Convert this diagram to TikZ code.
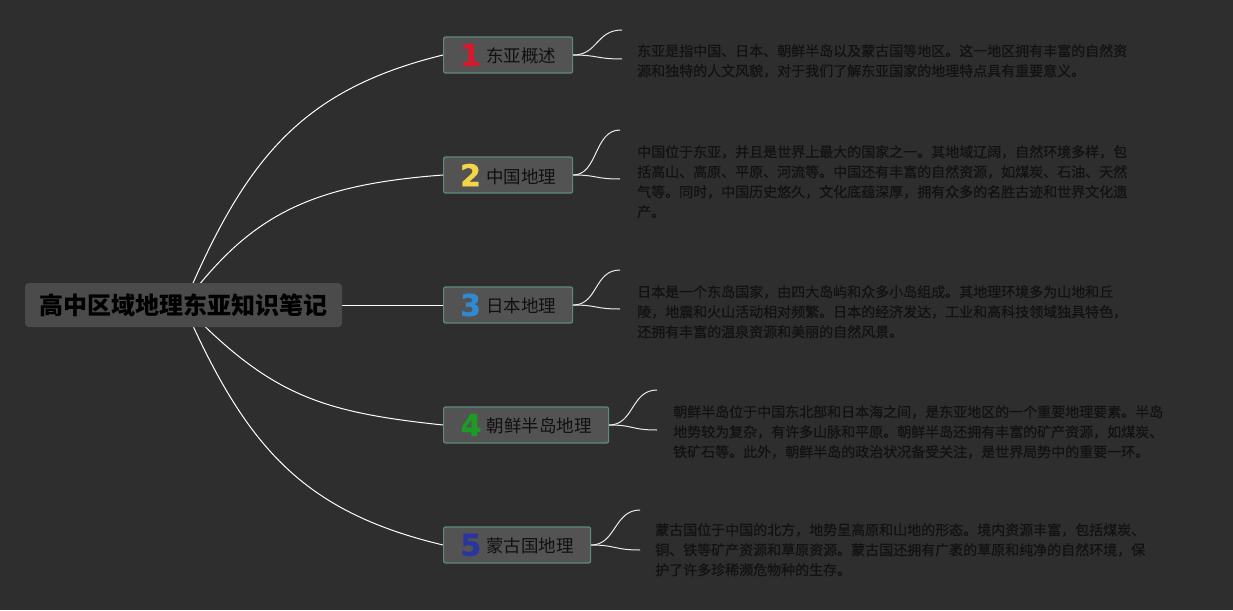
\documentclass[tikz,border=0pt]{standalone}
\usepackage{fontspec}
\setmainfont{Noto Sans CJK SC}
\newfontfamily\descfont{Noto Sans CJK SC}[FakeBold=0.5]
\newfontfamily\numfont{DejaVu Sans}[FakeBold=1]
\definecolor{bgc}{HTML}{2E2E2E}
\definecolor{rootfill}{HTML}{4B4B4B}
\definecolor{boxfill}{HTML}{545353}
\definecolor{boxline}{HTML}{5E8B7C}
\definecolor{labeltext}{HTML}{101010}
\definecolor{desctext}{HTML}{121212}
\definecolor{nA}{HTML}{D7192E}
\definecolor{nB}{HTML}{F2D54A}
\definecolor{nC}{HTML}{2E8BD3}
\definecolor{nD}{HTML}{1E9B25}
\definecolor{nE}{HTML}{2B35A0}
\pgfdeclarelayer{bglayer}
\pgfdeclarelayer{linelayer}
\pgfsetlayers{bglayer,linelayer,main}
\newcommand{\topicnum}[2]{\raisebox{-3pt}{\numfont\bfseries\fontsize{30pt}{30pt}\selectfont\color{#1}#2}\hspace{5pt}}
\begin{document}
\begin{tikzpicture}[x=1pt,y=-1pt,
  root/.style={fill=rootfill, rounded corners=4pt, minimum width=317pt, minimum height=44pt, inner sep=0pt, font=\fontsize{24pt}{28pt}\selectfont\bfseries, text=black},
  topic/.style={fill=boxfill, draw=boxline, line width=1.2pt, rounded corners=2pt, minimum height=36pt, inner sep=0pt, font=\fontsize{17.5pt}{20pt}\selectfont, text=labeltext, anchor=west},
  desc/.style={anchor=north west, inner sep=0pt, align=left, font=\descfont\fontsize{14pt}{20pt}\selectfont, text=desctext},
  link/.style={draw=white, line width=1pt},
  brace/.style={draw=white!92!black, line width=1pt}]
\begin{pgfonlayer}{bglayer}
\fill[bgc] (0,0) rectangle (1233,610);
\end{pgfonlayer}
\useasboundingbox (0,0) rectangle (1233,610);

\node[root] (root) at (183.5,305) {高中区域地理东亚知识笔记};

\node[topic, minimum width=129pt] (t1) at (443,55) {\topicnum{nA}{1}东亚概述};
\node[topic, minimum width=129pt] (t2) at (443,175) {\topicnum{nB}{2}中国地理};
\node[topic, minimum width=129pt] (t3) at (443,305) {\topicnum{nC}{3}日本地理};
\node[topic, minimum width=165pt] (t4) at (443,425) {\topicnum{nD}{4}朝鲜半岛地理};
\node[topic, minimum width=147pt] (t5) at (443,545) {\topicnum{nE}{5}蒙古国地理};

\coordinate (b1u) at (622,30);  \coordinate (b1l) at (622,59);
\coordinate (b2u) at (620,130); \coordinate (b2l) at (620,179);
\coordinate (b3u) at (620,270); \coordinate (b3l) at (620,309);
\coordinate (b4u) at (657,390); \coordinate (b4l) at (657,430);
\coordinate (b5u) at (640,510); \coordinate (b5l) at (640,550);

\node[desc] (d1) at (637,44) {东亚是指中国、日本、朝鲜半岛以及蒙古国等地区。这一地区拥有丰富的自然资\\源和独特的人文风貌，对于我们了解东亚国家的地理特点具有重要意义。};
\node[desc] (d2) at (637,145) {中国位于东亚，并且是世界上最大的国家之一。其地域辽阔，自然环境多样，包\\括高山、高原、平原、河流等。中国还有丰富的自然资源，如煤炭、石油、天然\\气等。同时，中国历史悠久，文化底蕴深厚，拥有众多的名胜古迹和世界文化遗\\产。};
\node[desc] (d3) at (637,285) {日本是一个东岛国家，由四大岛屿和众多小岛组成。其地理环境多为山地和丘\\陵，地震和火山活动相对频繁。日本的经济发达，工业和高科技领域独具特色，\\还拥有丰富的温泉资源和美丽的自然风景。};
\node[desc] (d4) at (673,405) {朝鲜半岛位于中国东北部和日本海之间，是东亚地区的一个重要地理要素。半岛\\地势较为复杂，有许多山脉和平原。朝鲜半岛还拥有丰富的矿产资源，如煤炭、\\铁矿石等。此外，朝鲜半岛的政治状况备受关注，是世界局势中的重要一环。};
\node[desc] (d5) at (655,523) {蒙古国位于中国的北方，地势呈高原和山地的形态。境内资源丰富，包括煤炭、\\铜、铁等矿产资源和草原资源。蒙古国还拥有广袤的草原和纯净的自然环境，保\\护了许多珍稀濒危物种的生存。};

\begin{pgfonlayer}{linelayer}
\draw[link] (root.center) .. controls (245,160) and (300,90) .. (t1.west);
\draw[link] (root.center) .. controls (250,215) and (310,185) .. (t2.west);
\draw[link] (root.center) -- (t3.west);
\draw[link] (root.center) .. controls (270,395) and (320,412) .. (t4.west);
\draw[link] (root.center) .. controls (245,444) and (300,511) .. (t5.west);

\draw[brace] (t1.east) .. controls (598,55) and (596,30) .. (b1u);
\draw[brace] (t1.east) .. controls (598,55) and (596,59) .. (b1l);
\draw[brace] (t2.east) .. controls (598,175) and (594,130) .. (b2u);
\draw[brace] (t2.east) .. controls (598,175) and (594,179) .. (b2l);
\draw[brace] (t3.east) .. controls (598,305) and (594,270) .. (b3u);
\draw[brace] (t3.east) .. controls (598,305) and (594,309) .. (b3l);
\draw[brace] (t4.east) .. controls (634,425) and (631,390) .. (b4u);
\draw[brace] (t4.east) .. controls (634,425) and (631,430) .. (b4l);
\draw[brace] (t5.east) .. controls (616,545) and (614,510) .. (b5u);
\draw[brace] (t5.east) .. controls (616,545) and (614,550) .. (b5l);
\end{pgfonlayer}
\end{tikzpicture}
\end{document}
